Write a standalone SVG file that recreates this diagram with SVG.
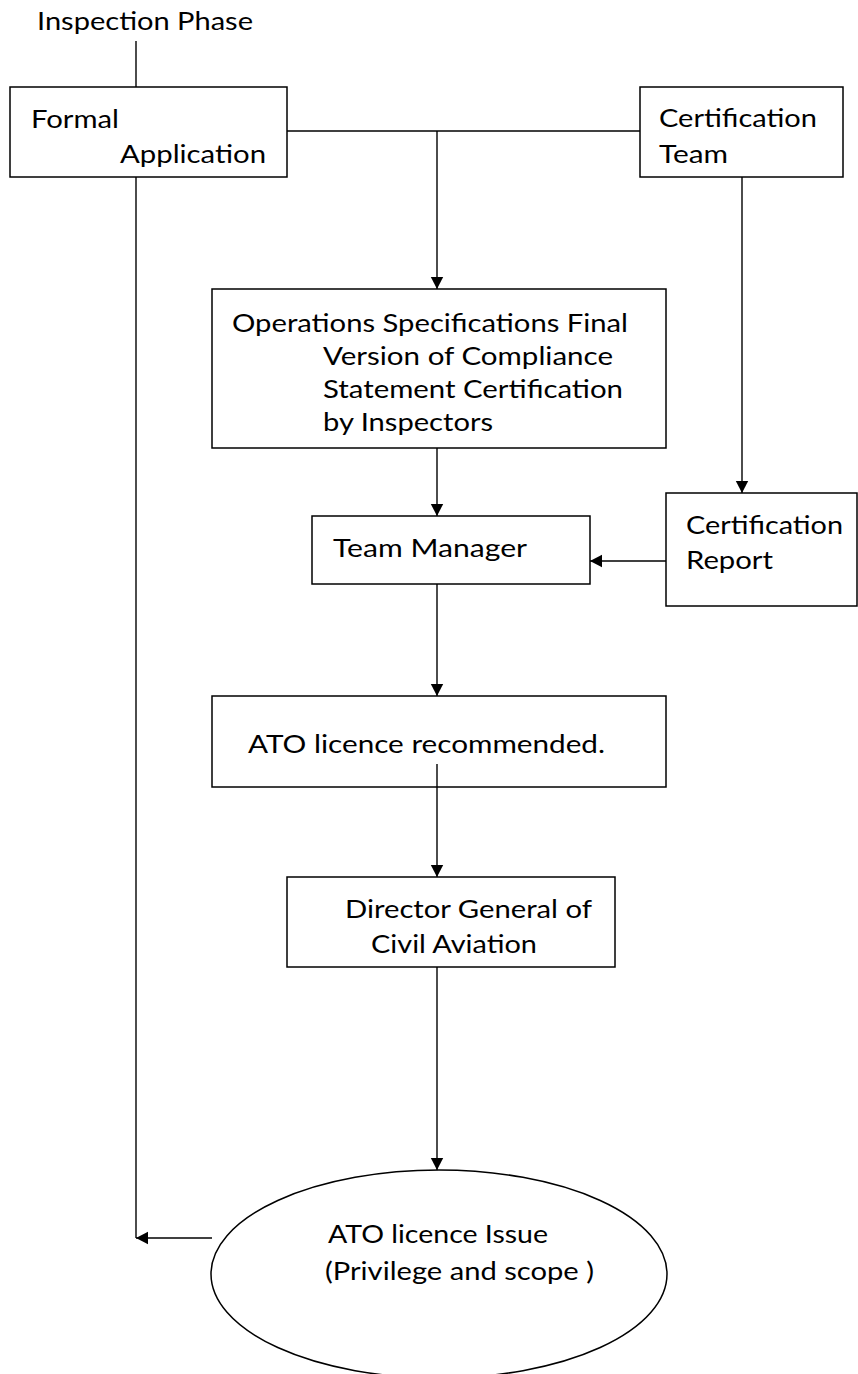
<svg xmlns="http://www.w3.org/2000/svg" width="858" height="1374" viewBox="0 0 858 1374">
<style>
.box{fill:#fff;stroke:#000;stroke-width:1.5}
.t{font-family:Lato,"Liberation Sans",sans-serif;font-size:25.5px;fill:#000}
.c{fill:none;stroke:#000;stroke-width:1.4}
</style>
<defs>
<marker id="ah" markerUnits="userSpaceOnUse" markerWidth="14" markerHeight="14" refX="12" refY="7" orient="auto">
<path d="M0,0.8 L12,7 L0,13.2 z" fill="#000"/>
</marker>
</defs>
<rect width="858" height="1374" fill="#fff"/>
<g id="connectors">
<path class="c" d="M136 41 V87"/>
<path class="c" d="M136 177 V1238"/>
<path class="c" d="M212 1238 H136" marker-end="url(#ah)"/>
<path class="c" d="M287 131 H640"/>
<path class="c" d="M437 131 V289" marker-end="url(#ah)"/>
<path class="c" d="M742 177 V493" marker-end="url(#ah)"/>
<path class="c" d="M437 448 V516" marker-end="url(#ah)"/>
<path class="c" d="M666 561 H590" marker-end="url(#ah)"/>
<path class="c" d="M437 584 V696" marker-end="url(#ah)"/>
<path class="c" d="M437 967 V1170" marker-end="url(#ah)"/>
</g>
<g id="inspection-phase">
<text class="t" x="37" y="30" textLength="216" lengthAdjust="spacingAndGlyphs">Inspection Phase</text>
</g>
<g id="formal-application">
<rect class="box" x="10" y="87" width="277" height="90"/>
<text class="t" x="31" y="128" textLength="88" lengthAdjust="spacingAndGlyphs">Formal</text>
<text class="t" x="120" y="163" textLength="146" lengthAdjust="spacingAndGlyphs">Application</text>
</g>
<g id="certification-team">
<rect class="box" x="640" y="87" width="203" height="90"/>
<text class="t" x="659" y="127" textLength="158" lengthAdjust="spacingAndGlyphs">Certification</text>
<text class="t" x="659" y="163" textLength="69" lengthAdjust="spacingAndGlyphs">Team</text>
</g>
<g id="operations-specifications">
<rect class="box" x="212" y="289" width="454" height="159"/>
<text class="t" x="232" y="332" textLength="396" lengthAdjust="spacingAndGlyphs">Operations Specifications Final</text>
<text class="t" x="323" y="365" textLength="290" lengthAdjust="spacingAndGlyphs">Version of Compliance</text>
<text class="t" x="323" y="398" textLength="300" lengthAdjust="spacingAndGlyphs">Statement Certification</text>
<text class="t" x="323" y="431" textLength="170" lengthAdjust="spacingAndGlyphs">by Inspectors</text>
</g>
<g id="team-manager">
<rect class="box" x="312" y="516" width="278" height="68"/>
<text class="t" x="333" y="557" textLength="194" lengthAdjust="spacingAndGlyphs">Team Manager</text>
</g>
<g id="certification-report">
<rect class="box" x="666" y="493" width="191" height="113"/>
<text class="t" x="686" y="534" textLength="157" lengthAdjust="spacingAndGlyphs">Certification</text>
<text class="t" x="686" y="569" textLength="87" lengthAdjust="spacingAndGlyphs">Report</text>
</g>
<g id="ato-recommended">
<rect class="box" x="212" y="696" width="454" height="91"/>
<text class="t" x="248" y="753" textLength="357" lengthAdjust="spacingAndGlyphs">ATO licence recommended.</text>
<path class="c" d="M437 764 V877" marker-end="url(#ah)"/>
</g>
<g id="director-general">
<rect class="box" x="287" y="877" width="328" height="90"/>
<text class="t" x="345" y="918" textLength="247" lengthAdjust="spacingAndGlyphs">Director General of</text>
<text class="t" x="371" y="953" textLength="166" lengthAdjust="spacingAndGlyphs">Civil Aviation</text>
</g>
<g id="ato-licence-issue">
<ellipse class="box" cx="439" cy="1274" rx="228" ry="104"/>
<text class="t" x="328" y="1243" textLength="220" lengthAdjust="spacingAndGlyphs">ATO licence Issue</text>
<text class="t" x="325" y="1280" textLength="269" lengthAdjust="spacingAndGlyphs">(Privilege and scope )</text>
</g>
</svg>
